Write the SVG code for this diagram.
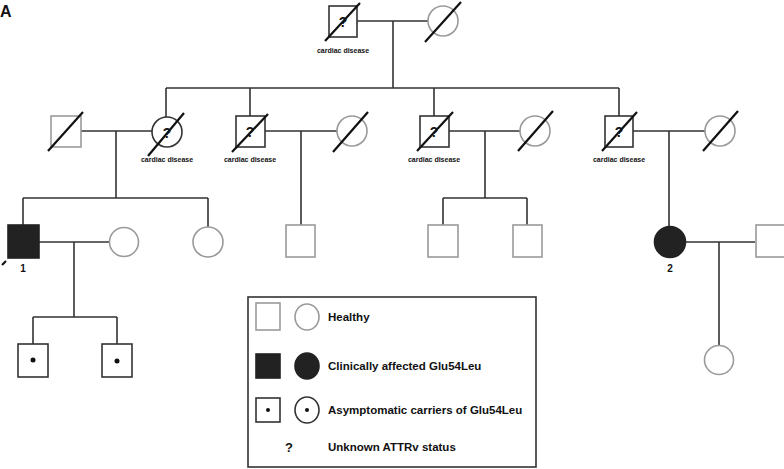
<svg xmlns="http://www.w3.org/2000/svg" width="784" height="469" viewBox="0 0 784 469">
<style>
.ln{stroke:#333;stroke-width:1.6;fill:none}
.dk{stroke:#333;stroke-width:1.6;fill:#fff}
.lt{stroke:#9a9a9a;stroke-width:1.6;fill:#fff}
.af{stroke:#222;stroke-width:1.6;fill:#222}
.dg{stroke:#111;stroke-width:2.2}
.dot{fill:#111}
.q{font-family:"Liberation Sans",Arial,sans-serif;font-weight:bold;font-size:14px;fill:#111;text-anchor:middle}
.cd{font-family:"Liberation Sans",Arial,sans-serif;font-weight:bold;font-size:7px;fill:#111;text-anchor:middle}
.lb{font-family:"Liberation Sans",Arial,sans-serif;font-weight:bold;font-size:11.5px;fill:#111}
.num{font-family:"Liberation Sans",Arial,sans-serif;font-weight:bold;font-size:10px;fill:#111;text-anchor:middle}
</style>
<rect width="784" height="469" fill="#fff"/>
<text x="0" y="17" font-family="Liberation Sans,Arial,sans-serif" font-weight="bold" font-size="16" fill="#111">A</text>

<g id="connectors">
<path class="ln" d="M357 21H428M393 21V88M166 88H619M166 88V117M250 88V116M434 88V116M619 88V116"/>
<path class="ln" d="M81 131H152M116 131V198M23 198H208M23 198V225M208 198V227"/>
<path class="ln" d="M265 131H337M301 131V225"/>
<path class="ln" d="M449 131H520M485 131V198M443 198H527M443 198V225M527 198V225"/>
<path class="ln" d="M633 131H705M669 131V227"/>
<path class="ln" d="M39 242H110M74 242V317M33 317H117M33 317V344M117 317V344"/>
<path class="ln" d="M685 242H755M719 242V345"/>
</g>

<g id="gen1-father"><rect class="dk" x="329" y="6" width="28" height="31"/><text class="q" x="343" y="27">?</text><line class="dg" x1="325" y1="41" x2="360" y2="3"/><text class="cd" x="343" y="53">cardiac disease</text></g>
<g id="gen1-mother"><circle class="lt" cx="443" cy="21" r="15"/><line class="dg" x1="425" y1="42" x2="461" y2="2"/></g>

<g id="gen2-spouse1"><rect class="lt" x="51" y="116" width="30" height="31"/><line class="dg" x1="48" y1="151" x2="83" y2="112"/></g>
<g id="gen2-daughter1"><circle class="dk" cx="167" cy="132" r="15"/><text class="q" x="167" y="138">?</text><line class="dg" x1="148" y1="156" x2="184" y2="113"/><text class="cd" x="167" y="162">cardiac disease</text></g>
<g id="gen2-son1"><rect class="dk" x="236" y="116" width="29" height="31"/><text class="q" x="250" y="137">?</text><line class="dg" x1="232" y1="152" x2="268" y2="114"/><text class="cd" x="250" y="162">cardiac disease</text></g>
<g id="gen2-spouse2"><circle class="lt" cx="352" cy="131" r="15"/><line class="dg" x1="333" y1="152" x2="368" y2="112"/></g>
<g id="gen2-son2"><rect class="dk" x="420" y="116" width="29" height="31"/><text class="q" x="434" y="137">?</text><line class="dg" x1="417" y1="151" x2="453" y2="112"/><text class="cd" x="434" y="162">cardiac disease</text></g>
<g id="gen2-spouse3"><circle class="lt" cx="535" cy="131" r="15"/><line class="dg" x1="518" y1="151" x2="553" y2="111"/></g>
<g id="gen2-son3"><rect class="dk" x="605" y="116" width="28" height="31"/><text class="q" x="619" y="137">?</text><line class="dg" x1="602" y1="151" x2="637" y2="112"/><text class="cd" x="619" y="162">cardiac disease</text></g>
<g id="gen2-spouse4"><circle class="lt" cx="720" cy="131" r="15"/><line class="dg" x1="703" y1="151" x2="738" y2="111"/></g>

<g id="proband1"><rect class="af" x="8" y="225" width="31" height="33"/><line class="dg" x1="2" y1="265" x2="6" y2="261"/><text class="num" x="23" y="272">1</text></g>
<g id="gen3-spouse"><circle class="lt" cx="124" cy="242" r="14.5"/></g>
<g id="gen3-daughter"><circle class="lt" cx="208" cy="242" r="15"/></g>
<g id="gen3-son-a"><rect class="lt" x="286" y="225" width="29" height="32"/></g>
<g id="gen3-son-b"><rect class="lt" x="428" y="225" width="30" height="32"/></g>
<g id="gen3-son-c"><rect class="lt" x="513" y="225" width="29" height="32"/></g>
<g id="proband2"><circle class="af" cx="670" cy="242" r="15.5"/><text class="num" x="670" y="272">2</text></g>
<g id="gen3-spouse2"><rect class="lt" x="756" y="225" width="29" height="32"/></g>

<g id="gen4-carrier1"><rect class="dk" x="18" y="344" width="30" height="33"/><circle class="dot" cx="33" cy="360" r="2.5"/></g>
<g id="gen4-carrier2"><rect class="dk" x="102" y="344" width="30" height="33"/><circle class="dot" cx="117" cy="361" r="2.5"/></g>
<g id="gen4-daughter"><circle class="lt" cx="719" cy="360" r="14.5"/></g>

<g id="legend">
<rect x="248" y="297" width="288" height="170" fill="#fff" stroke="#333" stroke-width="1.6"/>
<rect class="lt" x="256" y="303" width="24" height="27"/><ellipse class="lt" cx="307" cy="317" rx="12" ry="13"/>
<text class="lb" x="328" y="321">Healthy</text>
<rect class="af" x="256" y="354" width="24" height="24"/><ellipse class="af" cx="307" cy="366" rx="12" ry="13"/>
<text class="lb" x="328" y="370">Clinically affected Glu54Leu</text>
<rect class="dk" x="256" y="398" width="24" height="24"/><circle class="dot" cx="268" cy="410" r="2"/>
<ellipse class="dk" cx="307" cy="410" rx="12" ry="13"/><circle class="dot" cx="307" cy="410" r="2"/>
<text class="lb" x="328" y="414">Asymptomatic carriers of Glu54Leu</text>
<text class="q" x="289" y="452" style="font-size:13px">?</text>
<text class="lb" x="328" y="451">Unknown ATTRv status</text>
</g>
</svg>
